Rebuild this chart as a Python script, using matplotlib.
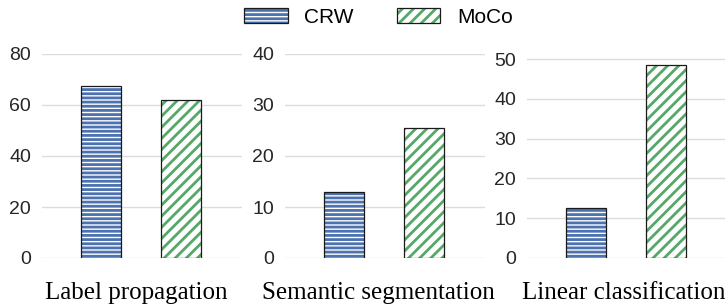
import matplotlib
matplotlib.use("Agg")
import matplotlib.pyplot as plt
from matplotlib.patches import Patch

# values
tasks = ['Label propagation', 'Semantic segmentation', 'Linear classification']
methods = ['CRW', 'MoCo']
crw = [67.6, 12.9, 12.6]
moco = [62.1, 25.5, 48.6]
yticks = [[0, 20, 40, 60, 80], [0, 10, 20, 30, 40], [0, 10, 20, 30, 40, 50]]
ytops = [80, 40, 51.3]

plt.rcParams['font.family'] = ['Liberation Sans', 'DejaVu Sans']
plt.rcParams['hatch.linewidth'] = 2.0

blue = '#4C72B0'
green = '#55A868'
hatches = ['----', '///']
colors = [blue, green]
HLW = 2.0


def hatched(p):
    if hasattr(p, 'set_hatch_linewidth'):
        p.set_hatch_linewidth(HLW)
    return p


fig = plt.figure(figsize=(7.25, 3.06), dpi=100)
W, H = 725.0, 306.0
lefts = [42, 285, 527]
label_x = [0.47, 0.465, 0.485]
bottom, top = 258, 54

for i, task in enumerate(tasks):
    ax = fig.add_axes([lefts[i] / W, 1 - bottom / H, 200 / W, (bottom - top) / H])
    vals = [crw[i], moco[i]]
    for j, (v, c, h) in enumerate(zip(vals, colors, hatches)):
        bars = ax.bar(j, v, width=0.5, color='white', edgecolor=c, hatch=h, linewidth=0, zorder=2)
        for b in bars:
            hatched(b)
        ax.bar(j, v, width=0.5, fill=False, edgecolor='#1a1a1a', linewidth=0.9, zorder=3)
    ax.set_xlim(-0.74, 1.76)
    ax.set_ylim(0, ytops[i])
    ax.set_yticks(yticks[i])
    ax.set_xticks([])
    ax.grid(axis='y', color='#dcdcdc', linewidth=1.0)
    ax.set_axisbelow(True)
    for s in ax.spines.values():
        s.set_visible(False)
    ax.tick_params(axis='y', length=0, pad=8, labelsize=14, labelcolor='#262626')
    ax.set_xlabel(task, family=['Liberation Serif', 'DejaVu Serif'], fontsize=18, color='black')
    ax.xaxis.set_label_coords(label_x[i], -41 / 204)
    ax.xaxis.label.set_va('baseline')

handles = []
for c, h in zip(colors, hatches):
    handles.append((hatched(Patch(facecolor='white', edgecolor=c, hatch=h, linewidth=0)),
                    Patch(fill=False, edgecolor='#1a1a1a', linewidth=0.9)))
fig.legend(handles, methods, loc='center', bbox_to_anchor=(0.522, 0.944), ncol=2,
           frameon=False, fontsize=15, handlelength=2.1, handleheight=0.8,
           columnspacing=2.05, handletextpad=0.8)

fig.savefig('out.png', dpi=100)
